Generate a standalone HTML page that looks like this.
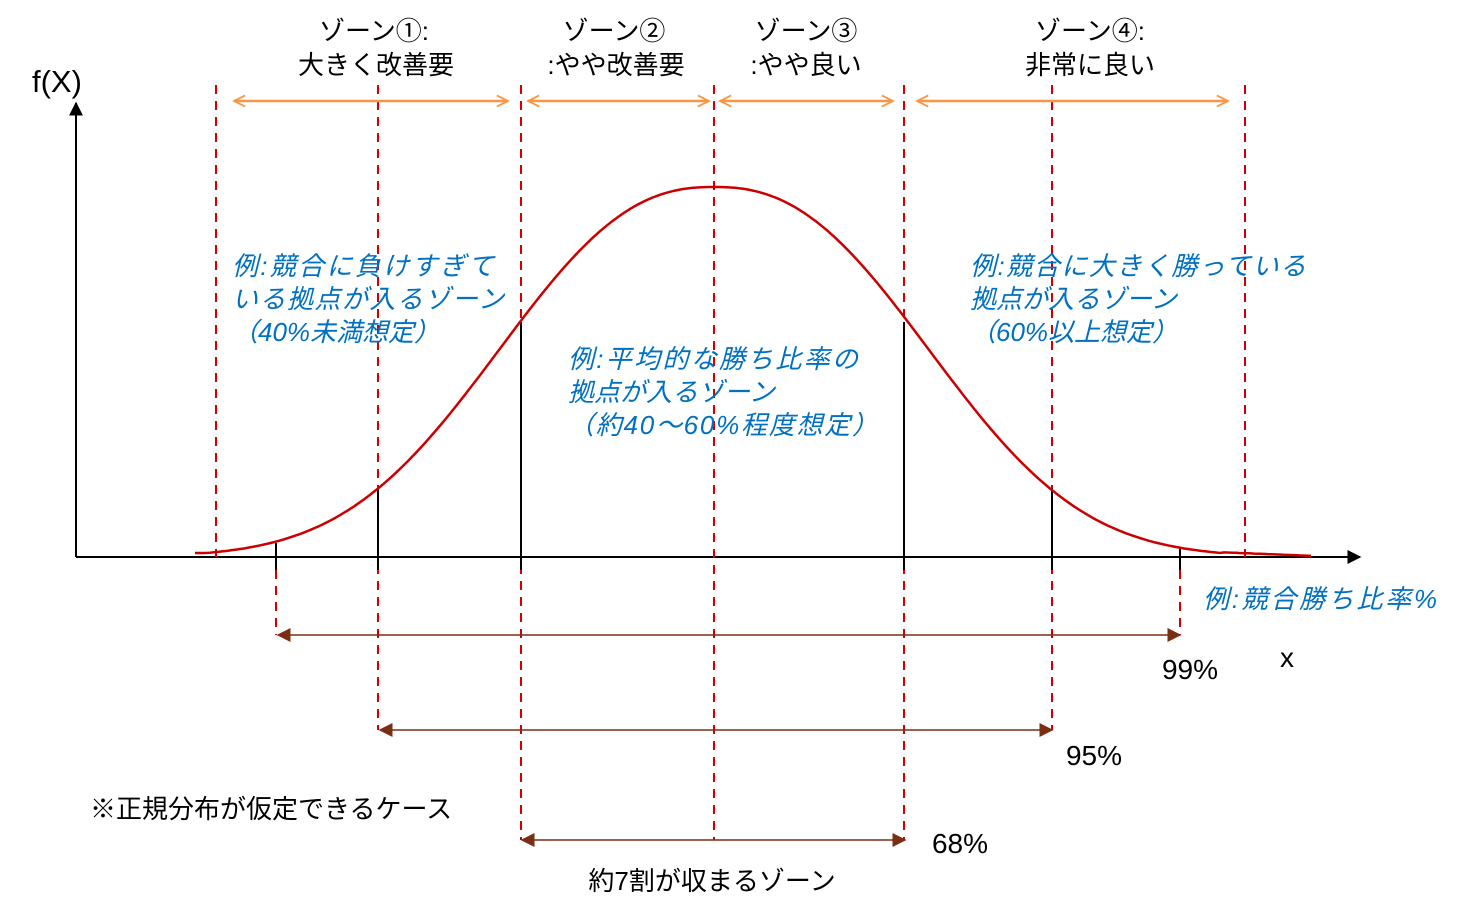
<!DOCTYPE html>
<html><head><meta charset="utf-8"><style>
body{margin:0;background:#fff;}
svg{display:block;font-family:"Liberation Sans","Noto Sans CJK JP",sans-serif;}
.b{fill:#000;font-size:26px;}
.i{fill:#0070c0;font-size:26px;font-style:italic;}
</style></head><body>
<svg width="1476" height="901" viewBox="0 0 1476 901" xmlns="http://www.w3.org/2000/svg">
<defs>
<marker id="ob" viewBox="0 0 10 10" refX="9" refY="5" markerWidth="14" markerHeight="14" markerUnits="userSpaceOnUse" orient="auto-start-reverse"><path d="M1 1 L9 5 L1 9" fill="none" stroke="#f79646" stroke-width="1.3"/></marker>
<marker id="br" viewBox="0 0 10 10" refX="9" refY="5" markerWidth="14" markerHeight="14" markerUnits="userSpaceOnUse" orient="auto-start-reverse"><path d="M0 0 L10 5 L0 10z" fill="#7a2e14"/></marker>
<marker id="bk" viewBox="0 0 10 10" refX="9" refY="5" markerWidth="14" markerHeight="14" markerUnits="userSpaceOnUse" orient="auto"><path d="M0 0 L10 5 L0 10z" fill="#000"/></marker>
</defs>
<line x1="76" y1="557" x2="76" y2="103" stroke="#000" stroke-width="2" marker-end="url(#bk)"/>
<line x1="76" y1="557" x2="1360" y2="557" stroke="#000" stroke-width="2" marker-end="url(#bk)"/>
<g stroke="#d00000" stroke-width="2" stroke-dasharray="9,7">
<line x1="216" y1="85" x2="216" y2="557"/>
<line x1="378" y1="85" x2="378" y2="730"/>
<line x1="521" y1="85" x2="521" y2="840"/>
<line x1="714" y1="85" x2="714" y2="840"/>
<line x1="904" y1="85" x2="904" y2="840"/>
<line x1="1052" y1="85" x2="1052" y2="730"/>
<line x1="1245" y1="85" x2="1245" y2="557"/>
<line x1="276" y1="570" x2="276" y2="635"/>
<line x1="1180" y1="570" x2="1180" y2="635"/>
</g>
<g stroke="#000" stroke-width="2">
<line x1="276" y1="543" x2="276" y2="570"/>
<line x1="378" y1="488" x2="378" y2="570"/>
<line x1="521" y1="322" x2="521" y2="570"/>
<line x1="904" y1="322" x2="904" y2="570"/>
<line x1="1052" y1="488" x2="1052" y2="570"/>
<line x1="1180" y1="548" x2="1180" y2="570"/>
</g>
<path id="curve" fill="none" stroke="#cc0000" stroke-width="2.5" d=""/>
<g stroke="#f79646" stroke-width="2.5" fill="none">
<line x1="234" y1="101" x2="508" y2="101" marker-start="url(#ob)" marker-end="url(#ob)"/>
<line x1="528" y1="101" x2="709" y2="101" marker-start="url(#ob)" marker-end="url(#ob)"/>
<line x1="720" y1="101" x2="893" y2="101" marker-start="url(#ob)" marker-end="url(#ob)"/>
<line x1="917" y1="101" x2="1228" y2="101" marker-start="url(#ob)" marker-end="url(#ob)"/>
</g>
<g stroke="#7a2e14" stroke-width="1.5">
<line x1="278" y1="635" x2="1180" y2="635" marker-start="url(#br)" marker-end="url(#br)"/>
<line x1="380" y1="730" x2="1052" y2="730" marker-start="url(#br)" marker-end="url(#br)"/>
<line x1="522" y1="840" x2="905" y2="840" marker-start="url(#br)" marker-end="url(#br)"/>
</g>
<text class="b" x="32" y="92" style="font-size:31px">f(X)</text>
<text class="b" x="1280" y="667" style="font-size:28px">x</text>
<g class="b" text-anchor="middle">
<text x="374" y="40">ゾーン①:</text><text x="376" y="74">大きく改善要</text>
<text x="614" y="40">ゾーン②</text><text x="616" y="74">:やや改善要</text>
<text x="806" y="40">ゾーン③</text><text x="806" y="74">:やや良い</text>
<text x="1090" y="40">ゾーン④:</text><text x="1090" y="74">非常に良い</text>
<text x="1190" y="679" style="font-size:28px">99%</text>
<text x="1094" y="765" style="font-size:28px">95%</text>
<text x="960" y="853" style="font-size:28px">68%</text>
<text x="712" y="890">約7割が収まるゾーン</text>
</g>
<text class="b" x="90" y="818">※正規分布が仮定できるケース</text>
<g class="i">
<text x="232" y="275" textLength="262">例:競合に負けすぎて</text>
<text x="232" y="308" textLength="272">いる拠点が入るゾーン</text>
<text x="232" y="341">（40%未満想定）</text>
<text x="568" y="368" textLength="290">例:平均的な勝ち比率の</text>
<text x="568" y="401">拠点が入るゾーン</text>
<text x="568" y="434" textLength="310">（約40～60%程度想定）</text>
<text x="970" y="275" textLength="336">例:競合に大きく勝っている</text>
<text x="970" y="308">拠点が入るゾーン</text>
<text x="970" y="341">（60%以上想定）</text>
<text x="1203" y="608" textLength="234">例:競合勝ち比率%</text>
</g>
</svg>
<script>
(function(){var d="";for(var x=195;x<=1313;x+=3){var t=Math.abs(x-714)/270;var y=557-370*Math.exp(-Math.pow(t,2.39));if(y>553)y=553+(x>714?(x-1240)/25:0);if(y>559)y=559;d+=(x==195?"M":"L")+x+" "+y.toFixed(1)+" ";}document.getElementById("curve").setAttribute("d",d);})();
</script>
</body></html>
